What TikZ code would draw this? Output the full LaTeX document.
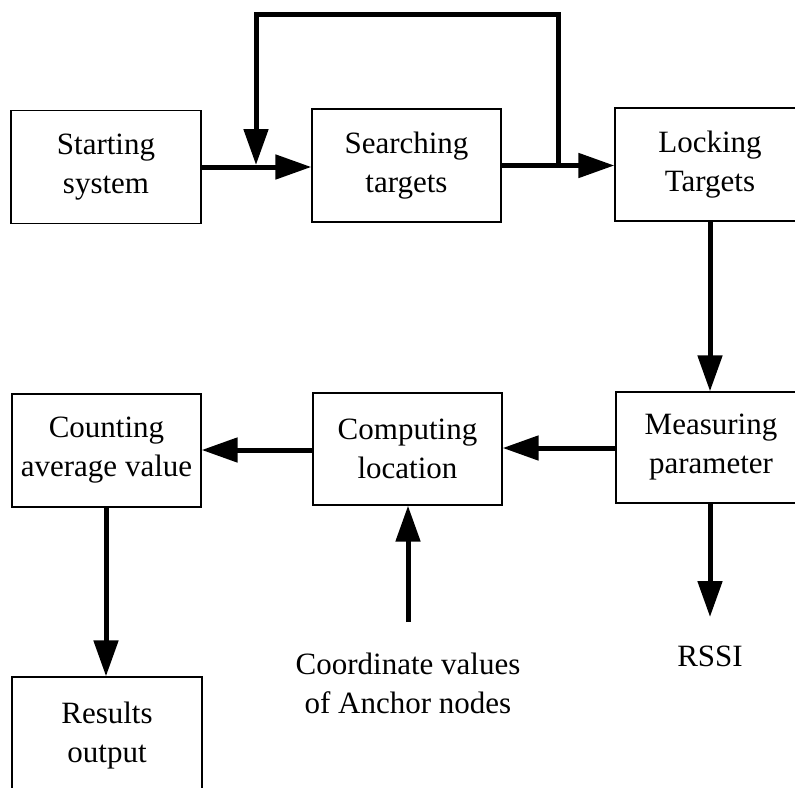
\documentclass[tikz,border=0pt]{standalone}
\usepackage{fontspec}
\setmainfont{LiberationSerif}[Extension=.ttf, UprightFont=*-Regular, BoldFont=*-Bold]
\usetikzlibrary{arrows.meta}
\tikzset{
  box/.style={draw=black, line width=1.3pt, rectangle, minimum width=190pt, minimum height=113pt,
    align=center, inner sep=0pt, font=\fontsize{31}{39}\selectfont},
  lbl/.style={align=center, inner sep=0pt, font=\fontsize{31}{39}\selectfont},
  arr/.style={line width=5pt, -{Triangle[length=36pt,width=24pt]}}
}
\begin{document}
\begin{tikzpicture}[x=1pt,y=-1pt]
\clip (0,0) rectangle (795,787);
\fill[white] (0,0) rectangle (795,787);
\node[box] (start) at (106,167) {Starting\\system};
\node[box, minimum width=189pt] (search) at (406.5,165.5) {Searching\\targets};
\node[box] (lock) at (710,164.5) {Locking\\Targets};
\node[box, minimum height=111pt] (meas) at (711,447.5) {Measuring\\parameter};
\node[box, minimum width=189pt, minimum height=112pt] (comp) at (407.5,449) {Computing\\location};
\node[box, minimum width=189pt] (count) at (106.5,450.5) {Counting\\average value};
\node[box, minimum height=118pt] (res) at (107,736) {Results\\output};
\node[lbl] (coord) at (408,683) {Coordinate values\\of Anchor nodes};
\node[lbl] (rssi) at (710,656) {RSSI};
% connectors
\coordinate (j1) at (558,165);
\coordinate (t1) at (558,14);
\coordinate (t2) at (256,14);
\coordinate (j2) at (256,165);
\coordinate (anc) at (408,622);
\coordinate (rs) at (710,617);
\draw[arr] (start.east) -- (start.east -| search.west);
\draw[arr] (search.east) -- (search.east -| lock.west);
\draw[arr, line join=miter] (j1) -- (t1) -- (t2) -- (j2);
\draw[arr] (lock.south -| 710,0) -- (meas.north -| 710,0);
\draw[arr] (meas.west |- 0,448) -- (comp.east |- 0,448);
\draw[arr] (comp.west |- 0,450) -- (count.east |- 0,450);
\draw[arr] (count.south -| 106,0) -- (res.north -| 106,0);
\draw[arr] (anc) -- (comp.south -| anc);
\draw[arr] (meas.south -| rs) -- (rs);
\end{tikzpicture}
\end{document}
